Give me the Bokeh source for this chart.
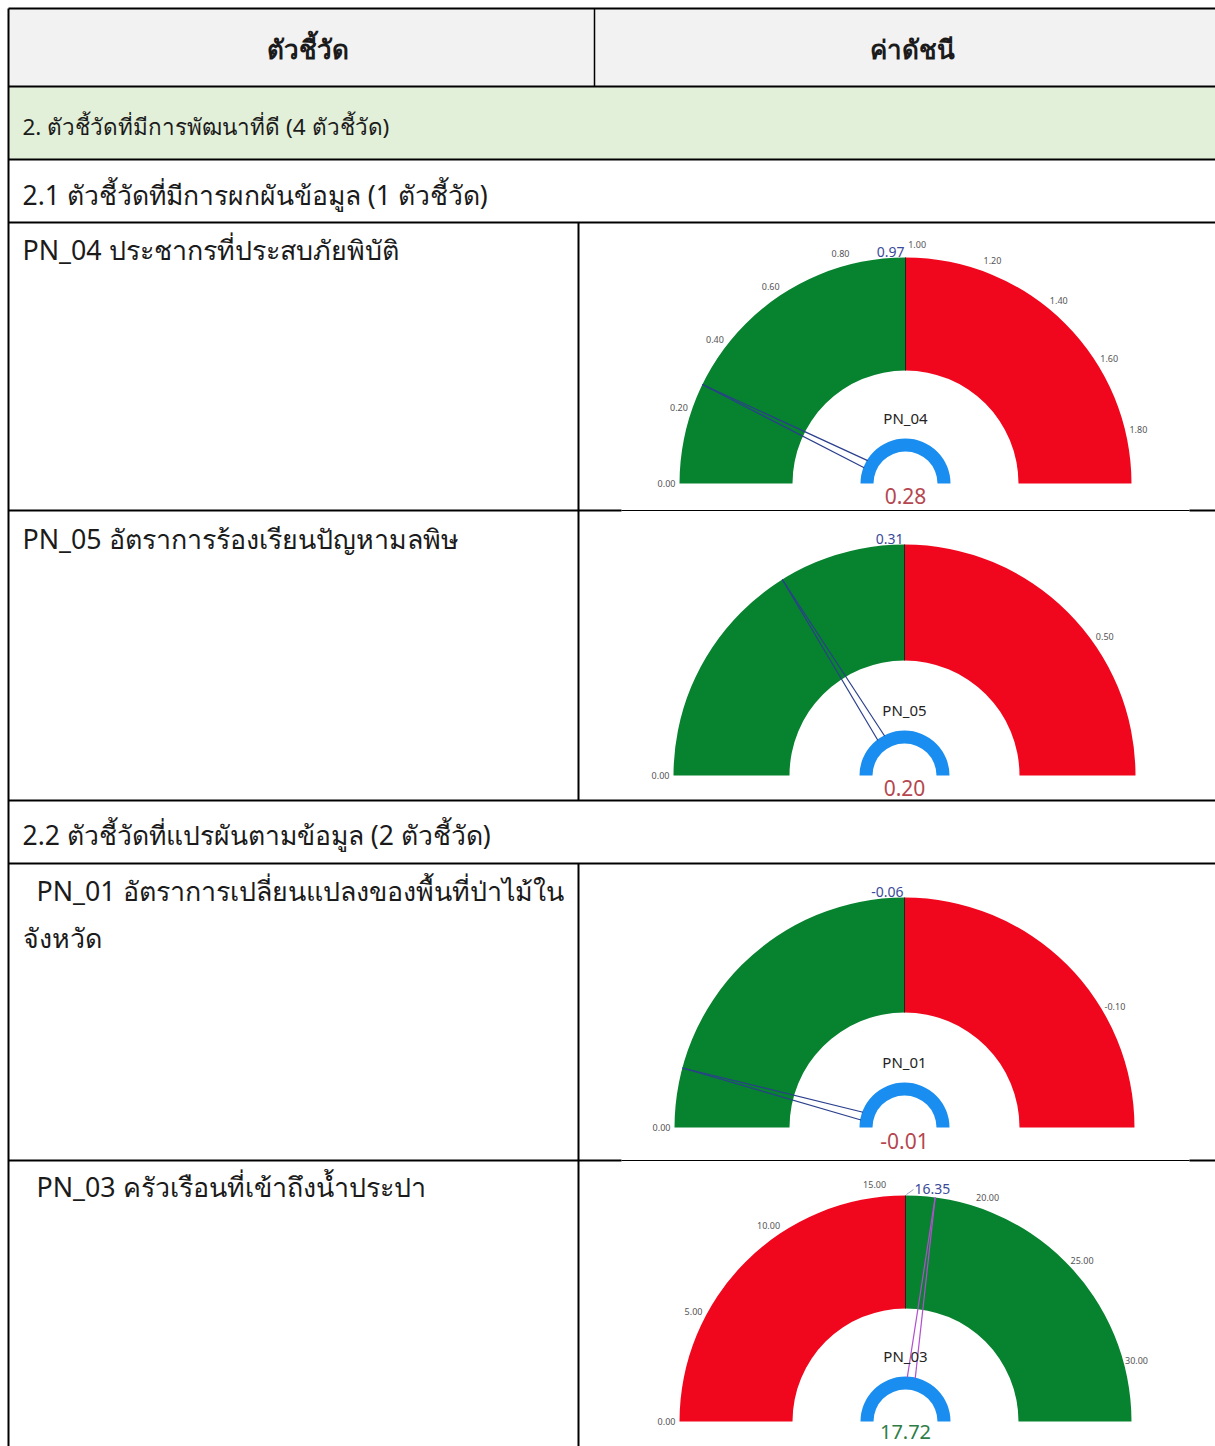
import math
from bokeh.plotting import figure
from bokeh.models import Range1d
from bokeh.core.properties import value
from bokeh.embed import file_html
from bokeh.resources import INLINE

# ---------------- data ----------------
header_labels = ["ตัวชี้วัด", "ค่าดัชนี"]
group_title = "2. ตัวชี้วัดที่มีการพัฒนาที่ดี (4 ตัวชี้วัด)"
section_titles = ["2.1 ตัวชี้วัดที่มีการผกผันข้อมูล (1 ตัวชี้วัด)",
                  "2.2 ตัวชี้วัดที่แปรผันตามข้อมูล (2 ตัวชี้วัด)"]
indicator_lines = [["PN_04 ประชากรที่ประสบภัยพิบัติ"],
                   ["PN_05 อัตราการร้องเรียนปัญหามลพิษ"],
                   ["PN_01 อัตราการเปลี่ยนแปลงของพื้นที่ป่าไม้ใน", "จังหวัด"],
                   ["PN_03 ครัวเรือนที่เข้าถึงน้ำประปา"]]
gauge_names = ["PN_04", "PN_05", "PN_01", "PN_03"]
gauge_targets = [0.97, 0.31, -0.06, 16.35]
gauge_values = [0.28, 0.20, -0.01, 17.72]
gauge_mins = [0.0, 0.0, 0.0, 0.0]
gauge_ticks = [[0.0, 0.2, 0.4, 0.6, 0.8, 1.0, 1.2, 1.4, 1.6, 1.8],
               [0.0, 0.5],
               [0.0, -0.1],
               [0.0, 5.0, 10.0, 15.0, 20.0, 25.0, 30.0]]
gauge_low_is_good = [True, True, True, False]

# ---------------- layout / style ----------------
W, H = 1215, 1446
FONT = "Noto Sans"
GREEN, RED, BLUE = "#07822f", "#f0071d", "#1a8ef0"
TXT = "#1b1b1b"

gauge_centers = [(905, 483), (904, 775), (904, 1127), (905, 1421)]
gauge_radii = [(113, 226), (115, 231), (115, 230), (113, 226)]
needle_colors = ["#2b3f8c", "#2b3f8c", "#2b3f8c", "#b24fd0"]
value_colors = ["#b5474f", "#b5474f", "#b5474f", "#2e7d46"]
value_center_offset = [12, 12, 13, 10]
value_font_sizes = ["21px", "21px", "21px", "20px"]
target_label_right = [False, False, False, True]
indicator_x = [[22], [22], [36, 22], [36]]
indicator_y = [[249], [538], [890, 937], [1186]]

p = figure(width=W, height=H, output_backend="svg", toolbar_location=None,
           x_range=Range1d(0, W), y_range=Range1d(-H, 0),
           min_border=0, border_fill_color="white", background_fill_color="white")
p.axis.visible = False
p.grid.visible = False
p.outline_line_color = None


def Y(py):
    return -py


# backgrounds
p.quad(left=[8, 8], right=[W, W], top=[Y(8), Y(86)], bottom=[Y(86), Y(159)],
       fill_color=["#f2f2f2", "#e2efd9"], line_color=None)

# table lines
segs = [  # x0, y0, x1, y1, width
    (8, 8, W, 8, 2), (8, 86, W, 86, 2), (8, 159, W, 159, 2),
    (8, 222, W, 222, 2),
    (8, 510, 621, 510, 2), (621, 510, 1189, 510, 1), (1189, 510, W, 510, 2),
    (8, 800, W, 800, 2), (8, 863, W, 863, 2),
    (8, 1160, 621, 1160, 2), (621, 1160, 1189, 1160, 1), (1189, 1160, W, 1160, 2),
    (8, 8, 8, H, 2), (594, 8, 594, 86, 1.5),
    (578, 222, 578, 800, 2), (578, 863, 578, H, 2),
]
p.segment(x0=[s[0] for s in segs], y0=[Y(s[1]) for s in segs],
          x1=[s[2] for s in segs], y1=[Y(s[3]) for s in segs],
          line_width=[s[4] for s in segs], line_color="black")

# header texts
p.text(x=[307, 912], y=[Y(48), Y(48)], text=header_labels, text_font=value(FONT),
       text_font_style="bold", text_font_size="26px", text_align="center",
       text_baseline="middle", text_color=TXT)
p.text(x=[22], y=[Y(126)], text=[group_title], text_font=value(FONT),
       text_font_size="22.5px", text_baseline="middle", text_color=TXT)
p.text(x=[22, 22], y=[Y(194), Y(834)], text=section_titles, text_font=value(FONT),
       text_font_size="26.5px", text_baseline="middle", text_color=TXT)

xs, ys, ts = [], [], []
for lines, xl, yl in zip(indicator_lines, indicator_x, indicator_y):
    for t, xx, yy in zip(lines, xl, yl):
        xs.append(xx)
        ys.append(Y(yy))
        ts.append(t)
p.text(x=xs, y=ys, text=ts, text_font=value(FONT), text_font_size="26.8px",
       text_baseline="middle", text_color=TXT)

# gauges
for i in range(4):
    cx, cyp = gauge_centers[i]
    cy = Y(cyp)
    rin, rout = gauge_radii[i]
    gmin = gauge_mins[i]
    tgt = gauge_targets[i]
    gmax = gmin + 2 * (tgt - gmin)

    def ang(v):
        return math.pi - (v - gmin) / (gmax - gmin) * math.pi

    at = ang(tgt)
    low_c, high_c = (GREEN, RED) if gauge_low_is_good[i] else (RED, GREEN)
    p.annular_wedge(x=[cx, cx], y=[cy, cy], inner_radius=rin, outer_radius=rout,
                    start_angle=[at, 0], end_angle=[math.pi, at],
                    fill_color=[low_c, high_c], line_color=None)
    # split line at target
    p.segment(x0=[cx + rin * math.cos(at)], y0=[cy + rin * math.sin(at)],
              x1=[cx + rout * math.cos(at)], y1=[cy + rout * math.sin(at)],
              line_color="#222222", line_width=1)
    # inner blue ring
    p.annular_wedge(x=[cx], y=[cy], inner_radius=32, outer_radius=45,
                    start_angle=[0], end_angle=[math.pi], fill_color=BLUE, line_color=None)
    # needle
    av = ang(gauge_values[i])
    rb, hw = 44, 4
    bx, by = cx + rb * math.cos(av), cy + rb * math.sin(av)
    px_, py_ = -math.sin(av), math.cos(av)
    tx, ty = cx + rout * math.cos(av), cy + rout * math.sin(av)
    p.multi_line(xs=[[bx + hw * px_, tx], [bx - hw * px_, tx]],
                 ys=[[by + hw * py_, ty], [by - hw * py_, ty]],
                 line_color=needle_colors[i], line_width=1.2)
    # tick labels
    tr = rout + 13
    tk = gauge_ticks[i]
    p.text(x=[cx + tr * math.cos(ang(v)) for v in tk],
           y=[cy + tr * math.sin(ang(v)) for v in tk],
           text=["%.2f" % v for v in tk], text_font=value(FONT), text_font_size="9px",
           text_align="center", text_baseline="middle", text_color="#555555")
    # target label
    if target_label_right[i]:
        p.segment(x0=[cx + 1], y0=[cy + rout + 1], x1=[cx + 8], y1=[cy + rout + 6],
                  line_color="#9aa3c8", line_width=1)
        p.text(x=[cx + 9], y=[cy + rout + 2], text=["%.2f" % tgt], text_font=value(FONT),
               text_font_size="14px", text_align="left", text_baseline="bottom",
               text_color="#3b4a9b")
    else:
        p.text(x=[cx - 1], y=[cy + rout + 1], text=["%.2f" % tgt], text_font=value(FONT),
               text_font_size="14px", text_align="right", text_baseline="bottom",
               text_color="#3b4a9b")
    # name
    p.text(x=[cx], y=[cy + 66], text=[gauge_names[i]], text_font=value(FONT),
           text_font_size="15px", text_align="center", text_baseline="middle",
           text_color="#252423")
    # value
    p.text(x=[cx], y=[cy - value_center_offset[i]], text=["%.2f" % gauge_values[i]],
           text_font=value(FONT), text_font_size=value_font_sizes[i], text_align="center",
           text_baseline="middle", text_color=value_colors[i])

open("out.html", "w").write(file_html(p, INLINE))
